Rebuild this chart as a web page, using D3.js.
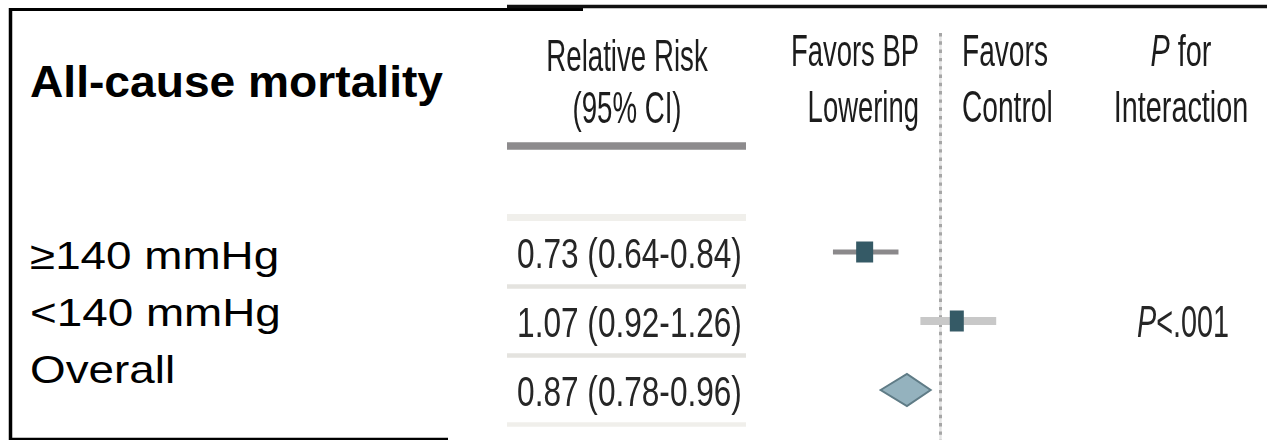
<!DOCTYPE html>
<html>
<head>
<meta charset="utf-8">
<script src="https://cdn.jsdelivr.net/npm/d3@7/dist/d3.min.js"></script>
<style>
  html, body { margin: 0; padding: 0; background: #fff; }
  svg { display: block; }
</style>
</head>
<body>
<svg id="chart" width="1276" height="440"></svg>
<script>
// ---- data ----
const title = "All-cause mortality";
const categories = ["≥140 mmHg", "<140 mmHg", "Overall"];
const rr = [0.73, 1.07, 0.87];
const ciLow = [0.64, 0.92, 0.78];
const ciHigh = [0.84, 1.26, 0.96];
const isPooled = [false, false, true];
const pInteraction = ["", ".001", ""];
const headerRR = ["Relative Risk", "(95% CI)"];
const headerLeft = ["Favors BP", "Lowering"];
const headerRight = ["Favors", "Control"];
const headerP = ["P for", "Interaction"];

// ---- layout ----
const W = 1276, H = 440;
const svg = d3.select("#chart");
const nullX = 940.5, pxPerLn = 241;
const x = d3.scaleLog()
  .domain([0.5, 2])
  .range([nullX - pxPerLn * Math.LN2, nullX + pxPerLn * Math.LN2]);
const yRow = d3.scalePoint().domain(categories).range([252, 390]);
const yLabel = d3.scalePoint().domain(categories).range([269, 383]);
const rowStep = yRow.step();

const fmt = d3.format(".2f");
const sans = "'Liberation Sans', Arial, sans-serif";

// text placed in a group that is stretched/compressed horizontally
function scaledText(parent, cls, data, px, py, f, anchor) {
  return parent.selectAll("g." + cls).data(data).join("g")
    .attr("class", cls)
    .attr("transform", (d, i) => `translate(${px(d, i)},${py(d, i)}) scale(${f},1)`)
    .append("text")
    .attr("x", 0).attr("y", 0)
    .attr("text-anchor", anchor);
}

// italic "P" followed by the rest of the string
function withItalicP(sel, rest) {
  sel.each(function (d, i) {
    const t = d3.select(this);
    t.append("tspan").attr("font-style", "italic").text("P");
    t.append("tspan").text(rest(d, i));
  });
}

const defs = svg.append("defs");
defs.append("filter").attr("id", "soft")
  .attr("x", "-5%").attr("y", "-5%").attr("width", "110%").attr("height", "110%")
  .append("feGaussianBlur").attr("stdDeviation", 0.45);

// ---- left panel: frame, title, subgroup labels ----
const left = svg.append("g");
left.append("line").attr("x1", 10.5).attr("x2", 10.5).attr("y1", 8).attr("y2", 440)
  .attr("stroke", "#000").attr("stroke-width", 3.5);
left.append("line").attr("x1", 9).attr("x2", 583).attr("y1", 9.5).attr("y2", 9.5)
  .attr("stroke", "#000").attr("stroke-width", 3);
left.append("line").attr("x1", 9).attr("x2", 448).attr("y1", 439).attr("y2", 439)
  .attr("stroke", "#000").attr("stroke-width", 2.5);

scaledText(left, "title", [title], () => 30, () => 97, 1.026, "start")
  .attr("font-family", sans).attr("font-weight", "bold").attr("font-size", 45)
  .attr("fill", "#000")
  .text(d => d);

scaledText(left, "cat", categories, () => 30, d => yLabel(d), 1.175, "start")
  .attr("font-family", sans).attr("font-size", 39)
  .attr("fill", "#000")
  .text(d => d);

// ---- right panel: forest plot table ----
svg.append("line").attr("x1", 507).attr("x2", 1267).attr("y1", 6.5).attr("y2", 6.5)
  .attr("stroke", "#111").attr("stroke-width", 3.5);

const right = svg.append("g").attr("filter", "url(#soft)");

// header texts
const hdr = right.append("g").attr("font-family", sans).attr("font-size", 45).attr("fill", "#1c1c1c");
scaledText(hdr, "rr", headerRR, () => 627, (d, i) => i ? 123 : 71, 0.615, "middle").text(d => d);
scaledText(hdr, "fl", headerLeft, () => 919, (d, i) => i ? 122 : 66, 0.61, "end").text(d => d);
scaledText(hdr, "fr", headerRight, () => 962, (d, i) => i ? 122 : 66, 0.625, "start").text(d => d);
scaledText(hdr, "ph", headerP, () => 1181, (d, i) => i ? 122 : 66, 0.64, "middle")
  .each(function (d, i) {
    const t = d3.select(this);
    if (i === 0) withItalicP(t, () => d.slice(1));
    else t.text(d);
  });

// header underline and row separators
right.append("line").attr("x1", 507).attr("x2", 746).attr("y1", 146).attr("y2", 146)
  .attr("stroke", "#8d8b8d").attr("stroke-width", 7.5);
const sepY = [yRow(categories[0]) - rowStep / 2].concat(categories.map(c => yRow(c) + rowStep / 2));
right.selectAll("line.sep").data(sepY).join("line").attr("class", "sep")
  .attr("x1", 507).attr("x2", 746).attr("y1", d => d).attr("y2", d => d)
  .attr("stroke", (d, i) => (i === 0 || i === sepY.length - 1) ? "#f0efeb" : "#e4e3df")
  .attr("stroke-width", (d, i) => i === 0 ? 7 : 4.5);

// relative risk text column
scaledText(right, "val", categories, () => 629.5, d => yRow(d) + 15.5, 0.735, "middle")
  .attr("font-family", sans).attr("font-size", 43).attr("fill", "#262626")
  .text((d, i) => `${fmt(rr[i])} (${fmt(ciLow[i])}-${fmt(ciHigh[i])})`);

// P for interaction
const pRows = categories.filter((d, i) => pInteraction[i]);
scaledText(right, "pv", pRows, () => 1183, d => yRow(d) + 15.5, 0.655, "middle")
  .attr("font-family", sans).attr("font-size", 44).attr("fill", "#262626")
  .call(withItalicP, d => "<" + pInteraction[categories.indexOf(d)]);

// null line at RR = 1
right.append("line")
  .attr("x1", x(1)).attr("x2", x(1)).attr("y1", 33).attr("y2", H)
  .attr("stroke", "#e4e4e4").attr("stroke-width", 2.5);
right.append("line")
  .attr("x1", x(1)).attr("x2", x(1)).attr("y1", 33).attr("y2", H)
  .attr("stroke", "#a6a6a6").attr("stroke-width", 3)
  .attr("stroke-dasharray", "3.4,4.9");

// confidence intervals for subgroups
const ciColor = ["#8b898b", "#c8c8c8"];
const ciWidth = [5, 8];
const boxW = [17, 14], boxH = 21;
const subIdx = d3.range(categories.length).filter(i => !isPooled[i]);

right.selectAll("line.ci").data(subIdx).join("line").attr("class", "ci")
  .attr("x1", i => x(ciLow[i])).attr("x2", i => x(ciHigh[i]))
  .attr("y1", i => yRow(categories[i])).attr("y2", i => yRow(categories[i]))
  .attr("stroke", (i, k) => ciColor[k]).attr("stroke-width", (i, k) => ciWidth[k]);

right.selectAll("rect.pt").data(subIdx).join("rect").attr("class", "pt")
  .attr("x", (i, k) => x(rr[i]) - boxW[k] / 2)
  .attr("y", i => yRow(categories[i]) - boxH / 2)
  .attr("width", (i, k) => boxW[k]).attr("height", boxH)
  .attr("fill", "#365a66");

// pooled estimate diamond
const poolIdx = d3.range(categories.length).filter(i => isPooled[i]);
const diamondHalf = 16;
right.selectAll("path.pool").data(poolIdx).join("path").attr("class", "pool")
  .attr("d", i => {
    const cy = yRow(categories[i]);
    return d3.line()([
      [x(ciLow[i]), cy], [x(rr[i]), cy - diamondHalf],
      [x(ciHigh[i]), cy], [x(rr[i]), cy + diamondHalf]
    ]) + "Z";
  })
  .attr("fill", "#94b2be").attr("stroke", "#5f7b86").attr("stroke-width", 2);
</script>
</body>
</html>
